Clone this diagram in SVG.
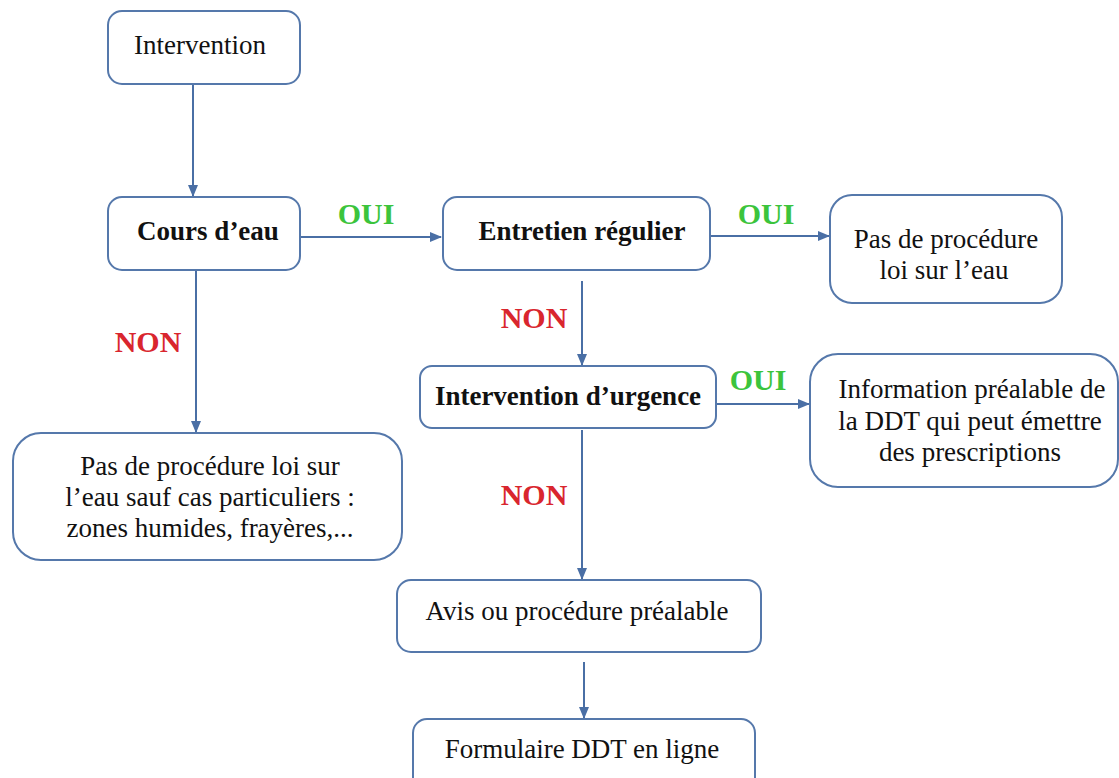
<svg xmlns="http://www.w3.org/2000/svg" width="1119" height="778" viewBox="0 0 1119 778">
<style>
.box{fill:#fff;stroke:#5578ab;stroke-width:2}
.t{font-family:"Liberation Serif",serif;font-size:27px;fill:#111;text-anchor:middle}
.b{font-weight:bold}
.oui{font-family:"Liberation Serif",serif;font-size:30px;font-weight:bold;fill:#3cc43c;text-anchor:middle}
.non{font-family:"Liberation Serif",serif;font-size:30px;font-weight:bold;fill:#d9262e;text-anchor:middle}
.c{stroke:#4a6fa5;stroke-width:2;fill:none;marker-end:url(#ah)}
</style>
<defs>
<marker id="ah" markerWidth="12" markerHeight="10" refX="11" refY="5" orient="auto" markerUnits="userSpaceOnUse">
<path d="M0,0 L12,5 L0,10 Z" fill="#4a6fa5"/>
</marker>
</defs>
<rect width="1119" height="778" fill="#fff"/>
<g id="connectors">
<line class="c" x1="193" y1="84" x2="193" y2="196"/>
<line class="c" x1="300" y1="237" x2="441" y2="237"/>
<line class="c" x1="710" y1="236" x2="829" y2="236"/>
<line class="c" x1="582" y1="281" x2="582" y2="365"/>
<line class="c" x1="716" y1="404" x2="809" y2="404"/>
<line class="c" x1="196" y1="270" x2="196" y2="432"/>
<line class="c" x1="582" y1="430" x2="582" y2="579"/>
<line class="c" x1="584" y1="662" x2="584" y2="718"/>
<text class="oui" x="366" y="224">OUI</text>
<text class="oui" x="766" y="224">OUI</text>
<text class="oui" x="758" y="390">OUI</text>
<text class="non" x="148" y="352">NON</text>
<text class="non" x="534" y="328">NON</text>
<text class="non" x="534" y="505">NON</text>
</g>
<g id="n1"><rect class="box" x="108" y="11" width="192" height="73" rx="14"/><text class="t" x="200" y="54">Intervention</text></g>
<g id="n2"><rect class="box" x="108" y="197" width="192" height="73" rx="14"/><text class="t b" x="208" y="240">Cours d’eau</text></g>
<g id="n3"><rect class="box" x="443" y="197" width="267" height="73" rx="14"/><text class="t b" x="582" y="240">Entretien régulier</text></g>
<g id="n4"><rect class="box" x="830" y="195" width="232" height="108" rx="22"/><text class="t" x="946" y="248">Pas de procédure</text><text class="t" x="944" y="279">loi sur l’eau</text></g>
<g id="n5"><rect class="box" x="420" y="366" width="296" height="62" rx="12"/><text class="t b" x="568" y="405">Intervention d’urgence</text></g>
<g id="n6"><rect class="box" x="810" y="354" width="308" height="133" rx="28"/><text class="t" x="972" y="398">Information préalable de</text><text class="t" x="970" y="430">la DDT qui peut émettre</text><text class="t" x="970" y="461">des prescriptions</text></g>
<g id="n7"><rect class="box" x="13" y="433" width="389" height="127" rx="28"/><text class="t" x="210" y="475">Pas de procédure loi sur</text><text class="t" x="210" y="506">l’eau sauf cas particuliers :</text><text class="t" x="210" y="537">zones humides, frayères,...</text></g>
<g id="n8"><rect class="box" x="397" y="580" width="364" height="72" rx="14"/><text class="t" x="577" y="620">Avis ou procédure préalable</text></g>
<g id="n9"><rect class="box" x="413" y="719" width="342" height="80" rx="14"/><text class="t" x="582" y="758">Formulaire DDT en ligne</text></g>
</svg>
